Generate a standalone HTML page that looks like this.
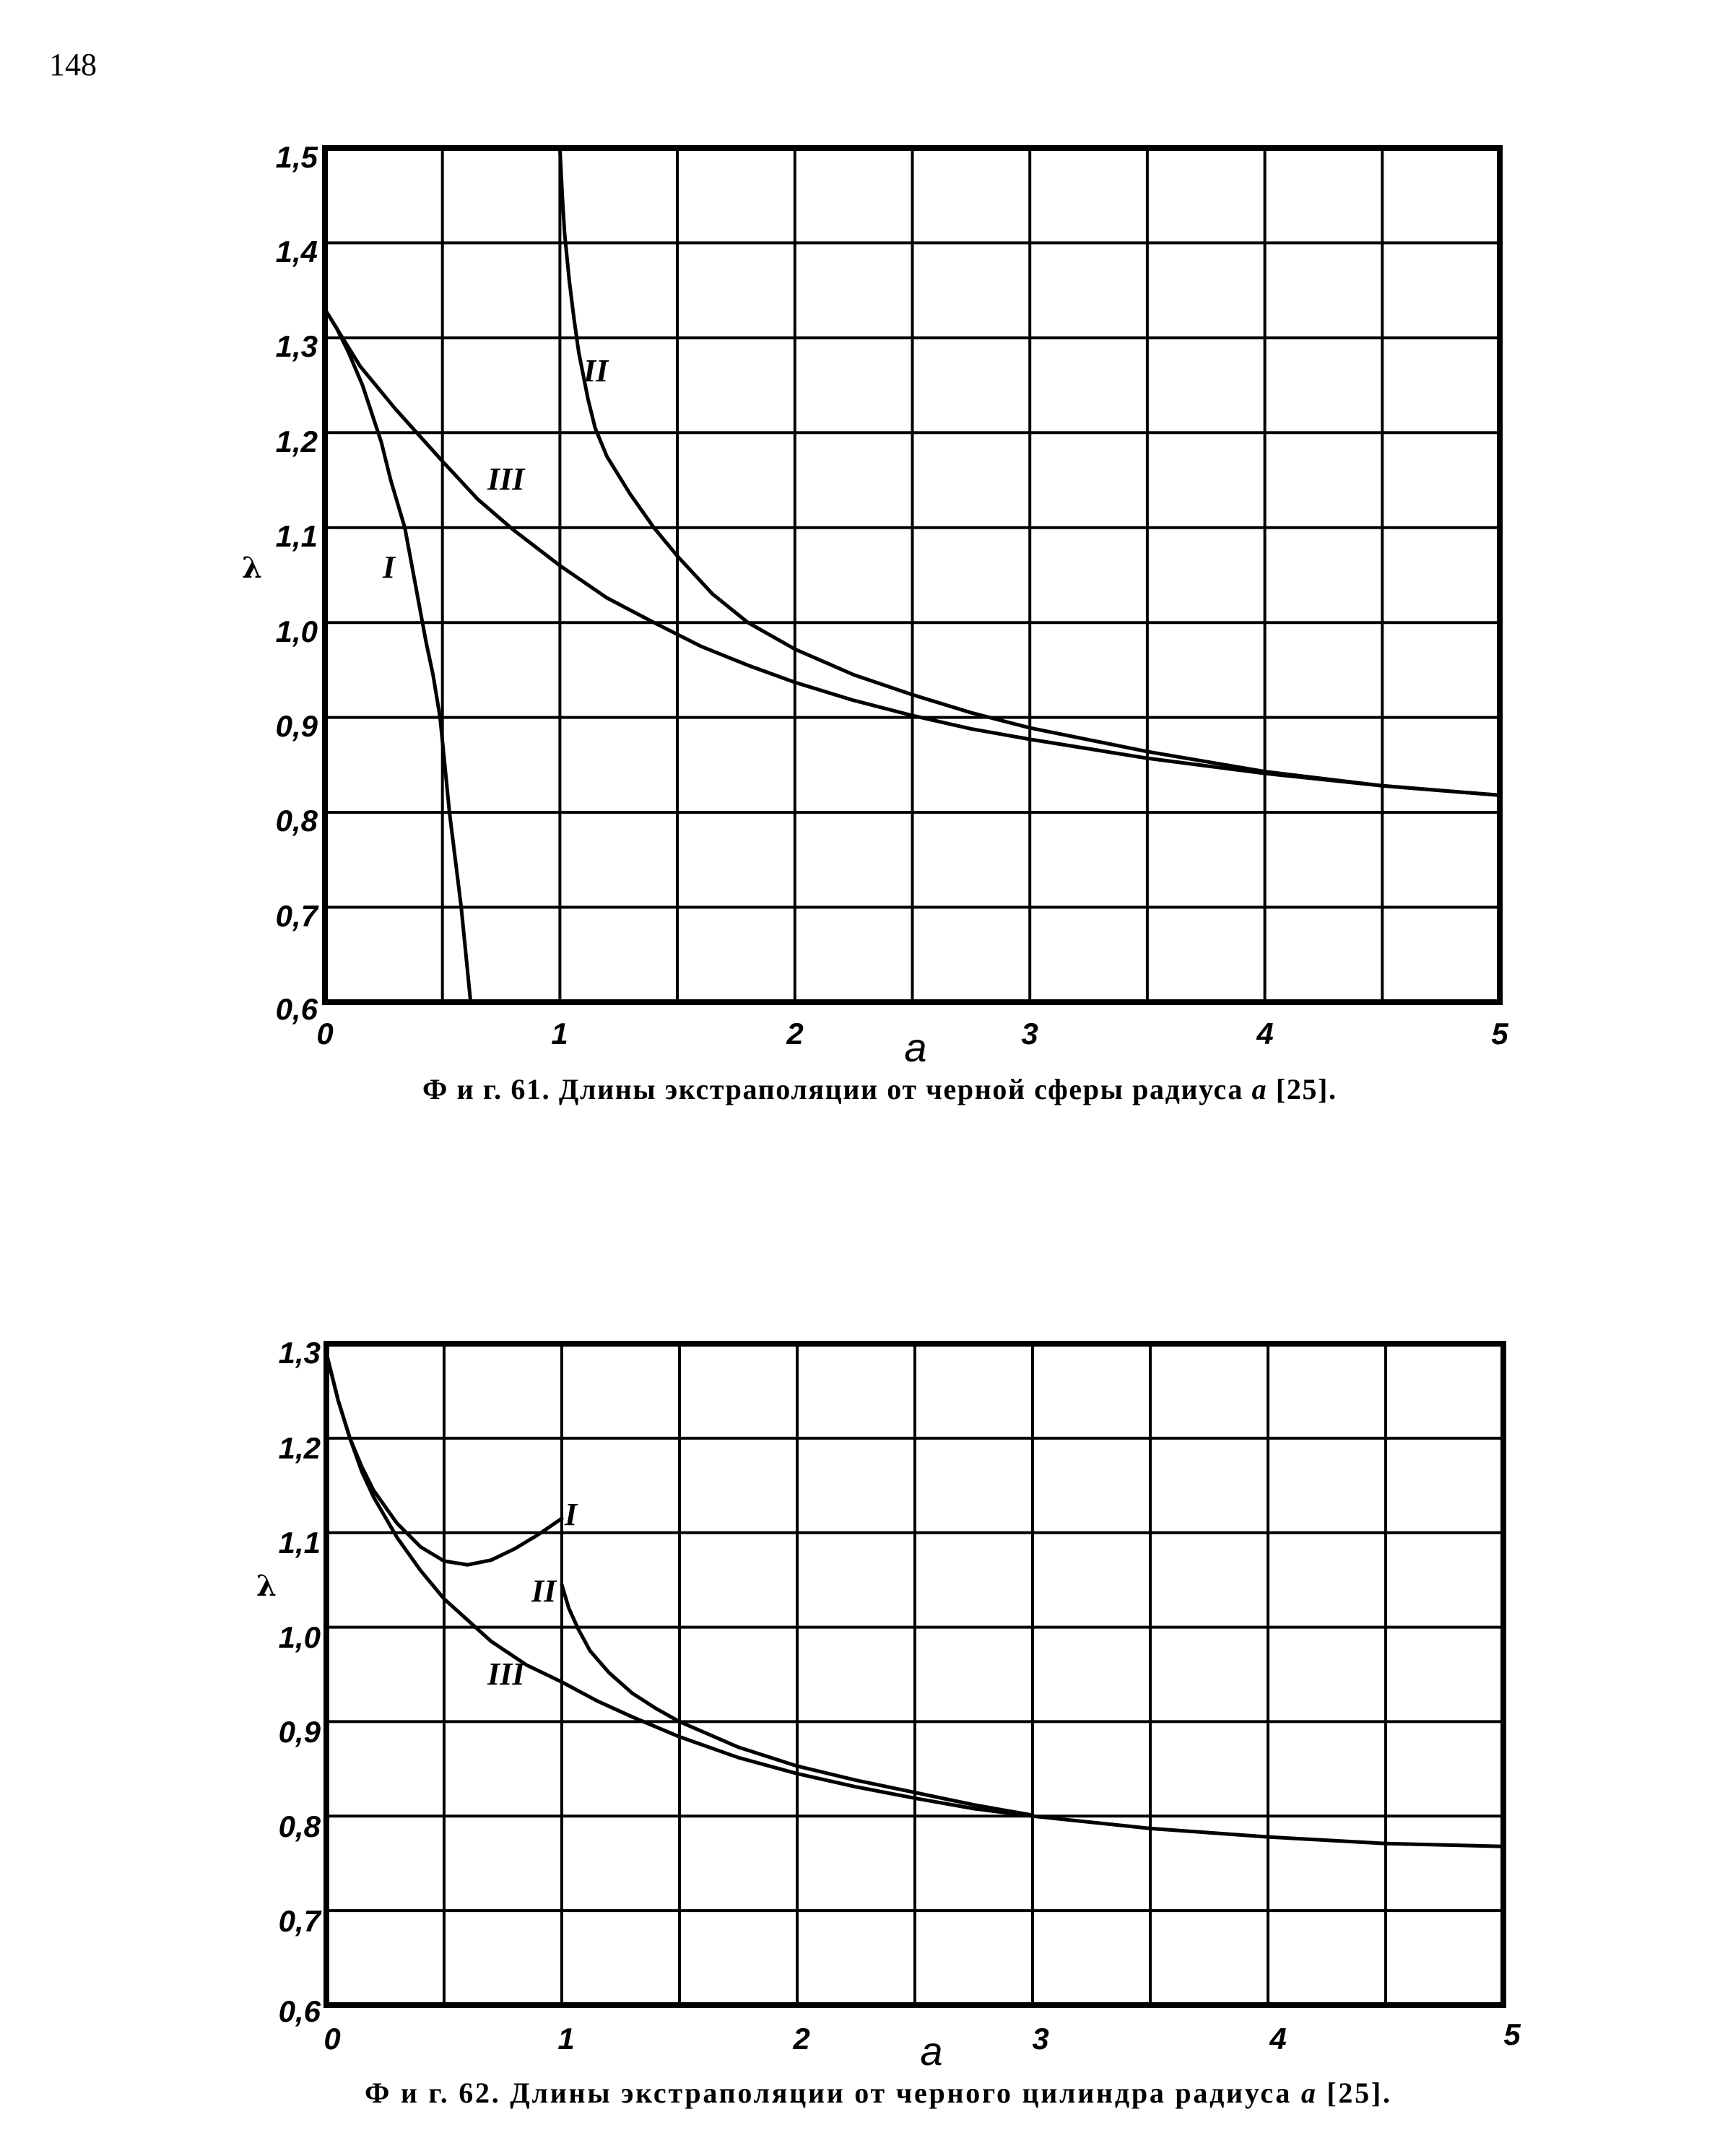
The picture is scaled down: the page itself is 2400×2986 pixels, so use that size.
<!DOCTYPE html>
<html><head><meta charset="utf-8"><style>
html,body{margin:0;padding:0;background:#fff;}
svg{display:block}
text{font-family:"Liberation Sans",sans-serif;fill:#000}
.t{font-style:italic;font-weight:bold;font-size:42px}
.c{font-family:"Liberation Serif","DejaVu Serif",serif;font-size:40px;font-weight:bold}
.r{font-family:"Liberation Serif",serif;font-style:italic;font-weight:bold;font-size:44px}
</style></head><body>
<svg width="2400" height="2986" viewBox="0 0 2400 2986" xmlns="http://www.w3.org/2000/svg">
<rect width="2400" height="2986" fill="#fff"/>
<text x="68" y="104" style="font-family:'Liberation Serif',serif;font-size:44px">148</text>

<!-- Chart 1 -->
<g stroke="#000" stroke-width="4" fill="none">
<path d="M612.7 205V1388M775.4 205V1388M938.1 205V1388M1100.8 205V1388M1263.5 205V1388M1426.2 205V1388M1588.9 205V1388M1751.6 205V1388M1914.3 205V1388"/>
<path d="M450 336.4H2077M450 467.9H2077M450 599.3H2077M450 730.8H2077M450 862.2H2077M450 993.6H2077M450 1125.1H2077M450 1256.5H2077"/>
<rect x="450" y="205" width="1627" height="1183" stroke-width="8"/>
</g>
<g transform="translate(450,2176.6) scale(325.4,-1314.4)" fill="none" stroke="#000" stroke-width="5" stroke-linejoin="round" stroke-linecap="round">
<polyline vector-effect="non-scaling-stroke" points="0,1.33 0.05,1.31 0.1,1.285 0.16,1.25 0.2,1.22 0.24,1.19 0.28,1.15 0.31,1.125 0.34,1.1 0.37,1.06 0.4,1.02 0.43,0.98 0.46,0.945 0.49,0.9 0.51,0.85 0.53,0.8 0.555,0.75 0.58,0.7 0.6,0.65 0.62,0.6"/>
<polyline vector-effect="non-scaling-stroke" points="1.0,1.5 1.01,1.45 1.02,1.41 1.04,1.36 1.06,1.32 1.08,1.285 1.1,1.26 1.12,1.235 1.15,1.205 1.2,1.175 1.3,1.135 1.4,1.1 1.5,1.07 1.65,1.03 1.8,1.0 2,0.972 2.25,0.945 2.5,0.924 2.75,0.905 3,0.889 3.5,0.864 4,0.843 4.5,0.828 5,0.818"/>
<polyline vector-effect="non-scaling-stroke" points="0,1.33 0.15,1.27 0.3,1.225 0.5,1.17 0.65,1.13 0.8,1.098 1,1.06 1.2,1.026 1.4,1.0 1.6,0.975 1.8,0.955 2,0.937 2.25,0.918 2.5,0.902 2.75,0.888 3,0.877 3.5,0.857 4,0.841 4.5,0.828 5,0.818"/>
</g>
<g class="t" text-anchor="end">
<text x="440" y="232">1,5</text><text x="440" y="363">1,4</text><text x="440" y="494">1,3</text><text x="440" y="626">1,2</text><text x="440" y="757">1,1</text><text x="440" y="889">1,0</text><text x="440" y="1020">0,9</text><text x="440" y="1151">0,8</text><text x="440" y="1283">0,7</text><text x="440" y="1412">0,6</text>
</g>
<g class="t" text-anchor="middle">
<text x="450" y="1446">0</text><text x="775" y="1446">1</text><text x="1101" y="1446">2</text><text x="1426" y="1446">3</text><text x="1752" y="1446">4</text><text x="2077" y="1446">5</text>
</g>
<text x="1268" y="1470" text-anchor="middle" style="font-family:'Liberation Sans',sans-serif;font-style:italic;font-size:56px">a</text>
<text x="335" y="800" style="font-family:'DejaVu Serif',serif;font-size:40px;font-weight:bold">λ</text>
<text class="r" x="808" y="528">II</text>
<text class="r" x="675" y="678">III</text>
<text class="r" x="530" y="800">I</text>
<text class="c" x="585" y="1522" textLength="1265" lengthAdjust="spacing">Ф и г. 61. Длины  экстраполяции  от  черной  сферы  радиуса  <tspan font-style="italic">a</tspan>  [25].</text>

<!-- Chart 2 -->
<g stroke="#000" stroke-width="4" fill="none">
<path d="M615 1861V2777M778 1861V2777M941 1861V2777M1104 1861V2777M1267 1861V2777M1430 1861V2777M1593 1861V2777M1756 1861V2777M1919 1861V2777"/>
<path d="M452 1991.9H2082M452 2122.7H2082M452 2253.6H2082M452 2384.4H2082M452 2515.3H2082M452 2646.1H2082"/>
<rect x="452" y="1861" width="1630" height="916" stroke-width="8"/>
</g>
<g transform="translate(452,3562.2) scale(326,-1308.6)" fill="none" stroke="#000" stroke-width="5" stroke-linejoin="round" stroke-linecap="round">
<polyline vector-effect="non-scaling-stroke" points="0,1.29 0.05,1.24 0.1,1.2 0.15,1.17 0.2,1.145 0.3,1.11 0.4,1.085 0.5,1.07 0.6,1.066 0.7,1.071 0.8,1.083 0.9,1.098 1.0,1.115"/>
<polyline vector-effect="non-scaling-stroke" points="0,1.29 0.05,1.24 0.1,1.2 0.15,1.165 0.2,1.138 0.3,1.095 0.4,1.06 0.5,1.03 0.7,0.985 0.85,0.96 1,0.942 1.15,0.922 1.3,0.905 1.5,0.884 1.75,0.862 2,0.845 2.25,0.831 2.5,0.819 2.75,0.808 3,0.8 3.5,0.787 4,0.778 4.5,0.771 5,0.768"/>
<polyline vector-effect="non-scaling-stroke" points="1.0,1.045 1.03,1.02 1.07,0.998 1.12,0.975 1.2,0.952 1.3,0.93 1.4,0.914 1.5,0.9 1.75,0.873 2,0.853 2.25,0.838 2.5,0.825 2.75,0.812 3,0.801"/>
</g>
<g class="t" text-anchor="end">
<text x="444" y="1888">1,3</text><text x="444" y="2020">1,2</text><text x="444" y="2151">1,1</text><text x="444" y="2282">1,0</text><text x="444" y="2413">0,9</text><text x="444" y="2544">0,8</text><text x="444" y="2675">0,7</text><text x="444" y="2800">0,6</text>
</g>
<g class="t" text-anchor="middle">
<text x="460" y="2838">0</text><text x="784" y="2838">1</text><text x="1110" y="2838">2</text><text x="1441" y="2838">3</text><text x="1770" y="2838">4</text><text x="2094" y="2832">5</text>
</g>
<text x="1290" y="2860" text-anchor="middle" style="font-family:'Liberation Sans',sans-serif;font-style:italic;font-size:56px">a</text>
<text x="355" y="2210" style="font-family:'DejaVu Serif',serif;font-size:40px;font-weight:bold">λ</text>
<text class="r" x="782" y="2112">I</text>
<text class="r" x="736" y="2218">II</text>
<text class="r" x="675" y="2333">III</text>
<text class="c" x="505" y="2912" textLength="1420" lengthAdjust="spacing">Ф и г. 62. Длины   экстраполяции   от   черного   цилиндра   радиуса <tspan font-style="italic">a</tspan> [25].</text>
</svg>
</body></html>
